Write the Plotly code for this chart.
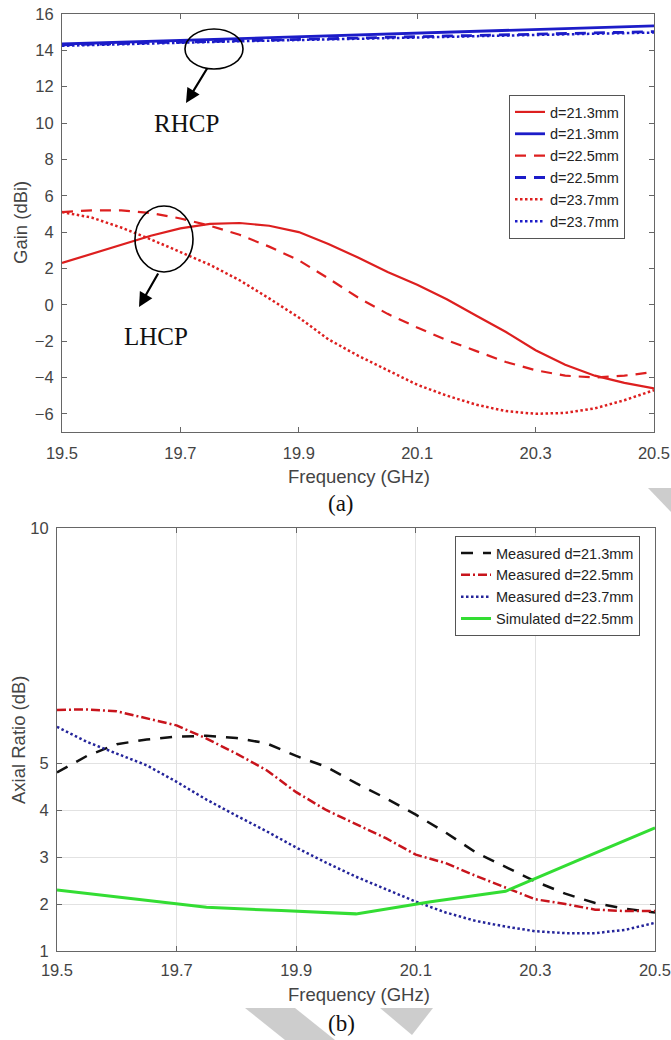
import plotly.graph_objects as go

# ---------------- data: (a) Gain ----------------
freq_a = [19.5, 19.55, 19.6, 19.65, 19.7, 19.75, 19.8, 19.85, 19.9, 19.95, 20.0,
          20.05, 20.1, 20.15, 20.2, 20.25, 20.3, 20.35, 20.4, 20.45, 20.5]
lhcp_213 = [2.3, 2.8, 3.3, 3.8, 4.2, 4.45, 4.5, 4.35, 4.0, 3.35, 2.6,
            1.8, 1.1, 0.3, -0.6, -1.5, -2.5, -3.3, -3.9, -4.3, -4.6]
lhcp_225 = [5.1, 5.2, 5.2, 5.05, 4.75, 4.35, 3.85, 3.2, 2.45, 1.45, 0.4,
            -0.5, -1.25, -1.95, -2.55, -3.15, -3.6, -3.9, -4.0, -3.9, -3.7]
lhcp_237 = [5.1, 4.8, 4.25, 3.6, 2.9, 2.2, 1.35, 0.35, -0.7, -1.9, -2.8,
            -3.6, -4.4, -5.0, -5.5, -5.85, -6.0, -5.95, -5.7, -5.25, -4.7]
rhcp_213 = [14.35, 14.4, 14.45, 14.5, 14.55, 14.6, 14.65, 14.7, 14.75, 14.8, 14.85,
            14.9, 14.95, 15.0, 15.05, 15.1, 15.15, 15.2, 15.25, 15.3, 15.35]
rhcp_225 = [14.3, 14.34, 14.38, 14.42, 14.46, 14.5, 14.54, 14.57, 14.61, 14.65, 14.68,
            14.72, 14.75, 14.79, 14.82, 14.86, 14.89, 14.93, 14.96, 15.0, 15.03]
rhcp_237 = [14.25, 14.3, 14.34, 14.38, 14.42, 14.46, 14.5, 14.53, 14.57, 14.6, 14.64,
            14.67, 14.71, 14.74, 14.78, 14.81, 14.85, 14.88, 14.92, 14.95, 14.98]

# ---------------- data: (b) Axial ratio ----------------
freq_b = freq_a
ar_meas_213 = [4.8, 5.15, 5.4, 5.5, 5.56, 5.58, 5.53, 5.42, 5.15, 4.92, 4.57,
               4.25, 3.9, 3.52, 3.1, 2.79, 2.48, 2.22, 2.02, 1.9, 1.82]
ar_meas_225 = [6.13, 6.14, 6.1, 5.95, 5.8, 5.52, 5.2, 4.85, 4.38, 4.0, 3.7,
               3.4, 3.05, 2.87, 2.6, 2.35, 2.1, 2.0, 1.88, 1.85, 1.85]
ar_meas_237 = [5.77, 5.45, 5.2, 4.95, 4.6, 4.22, 3.88, 3.55, 3.2, 2.88, 2.58,
               2.32, 2.05, 1.82, 1.64, 1.52, 1.42, 1.38, 1.38, 1.45, 1.6]
freq_sim = [19.5, 19.625, 19.75, 19.875, 20.0, 20.125, 20.25, 20.375, 20.5]
ar_sim_225 = [2.3, 2.12, 1.93, 1.86, 1.79, 2.05, 2.27, 2.95, 3.62]

x_ticks = [19.5, 19.7, 19.9, 20.1, 20.3, 20.5]
gain_ticks = [-6, -4, -2, 0, 2, 4, 6, 8, 10, 12, 14, 16]
ar_ticks = [1, 2, 3, 4, 5, 10]

RED = "#dd1f1f"
BLUE = "#1c1cc8"

fig = go.Figure()

# (a) traces, legend order as in reference
fig.add_trace(go.Scatter(x=freq_a, y=lhcp_213, name="d=21.3mm", mode="lines",
                         line=dict(color=RED, width=2.2), xaxis="x", yaxis="y", legend="legend"))
fig.add_trace(go.Scatter(x=freq_a, y=rhcp_213, name="d=21.3mm", mode="lines",
                         line=dict(color=BLUE, width=2.8), xaxis="x", yaxis="y", legend="legend"))
fig.add_trace(go.Scatter(x=freq_a, y=lhcp_225, name="d=22.5mm", mode="lines",
                         line=dict(color=RED, width=2.2, dash="11px,8px"), xaxis="x", yaxis="y", legend="legend"))
fig.add_trace(go.Scatter(x=freq_a, y=rhcp_225, name="d=22.5mm", mode="lines",
                         line=dict(color=BLUE, width=2.8, dash="11px,8px"), xaxis="x", yaxis="y", legend="legend"))
fig.add_trace(go.Scatter(x=freq_a, y=lhcp_237, name="d=23.7mm", mode="lines",
                         line=dict(color=RED, width=2.5, dash="2.5px,2.5px"), xaxis="x", yaxis="y", legend="legend"))
fig.add_trace(go.Scatter(x=freq_a, y=rhcp_237, name="d=23.7mm", mode="lines",
                         line=dict(color=BLUE, width=2.5, dash="2.5px,2.5px"), xaxis="x", yaxis="y", legend="legend"))

# (b) traces
fig.add_trace(go.Scatter(x=freq_b, y=ar_meas_213, name="Measured d=21.3mm", mode="lines",
                         line=dict(color="#111111", width=2.5, dash="12px,10px"), xaxis="x2", yaxis="y2", legend="legend2"))
fig.add_trace(go.Scatter(x=freq_b, y=ar_meas_225, name="Measured d=22.5mm", mode="lines",
                         line=dict(color="#c8141c", width=2.5, dash="9px,3px,2px,3px"), xaxis="x2", yaxis="y2", legend="legend2"))
fig.add_trace(go.Scatter(x=freq_b, y=ar_meas_237, name="Measured d=23.7mm", mode="lines",
                         line=dict(color="#24249a", width=2.5, dash="2.5px,2.5px"), xaxis="x2", yaxis="y2", legend="legend2"))
fig.add_trace(go.Scatter(x=freq_sim, y=ar_sim_225, name="Simulated d=22.5mm", mode="lines",
                         line=dict(color="#33dd33", width=3), xaxis="x2", yaxis="y2", legend="legend2"))

W, H = 671, 1040
def px(v): return v / W
def py(v): return 1 - v / H

tickfont = dict(family="Liberation Sans, Arial", size=16.5, color="#444444")
axis_common = dict(showline=True, linecolor="#666666", linewidth=1.2, mirror="ticks",
                   ticks="inside", ticklen=5, tickcolor="#666666", tickfont=tickfont,
                   zeroline=False, automargin=False, ticklabeloverflow="allow")

fig.update_layout(
    width=W, height=H, margin=dict(l=0, r=0, t=0, b=0, pad=0, autoexpand=False),
    paper_bgcolor="white", plot_bgcolor="white", showlegend=True,
    xaxis=dict(domain=[px(62), px(654)], range=[19.5, 20.5], tickvals=x_ticks,
               ticktext=[f"{v:.1f}" for v in x_ticks], showgrid=False, anchor="y",
               ticklabelstandoff=6, **axis_common),
    yaxis=dict(domain=[py(432), py(14)], range=[-7, 16], tickvals=gain_ticks,
               showgrid=False, anchor="x", ticklabelstandoff=4, **axis_common),
    xaxis2=dict(domain=[px(57), px(655)], range=[19.5, 20.5], tickvals=x_ticks,
                ticktext=[f"{v:.1f}" for v in x_ticks], showgrid=True, gridcolor="#e2e2e2",
                anchor="y2", ticklabelstandoff=4, **axis_common),
    yaxis2=dict(domain=[py(951), py(528)], range=[1, 10], tickvals=ar_ticks,
                showgrid=True, gridcolor="#e2e2e2", anchor="x2", ticklabelstandoff=4, **axis_common),
    legend=dict(x=px(509), y=py(95), xanchor="left", yanchor="top",
                bgcolor="white", bordercolor="#555555", borderwidth=1,
                font=dict(family="Liberation Sans, Arial", size=14.5, color="#222222"),
                itemwidth=30, tracegroupgap=0),
    legend2=dict(x=px(455), y=py(536), xanchor="left", yanchor="top",
                 bgcolor="white", bordercolor="#555555", borderwidth=1,
                 font=dict(family="Liberation Sans, Arial", size=14.5, color="#222222"),
                 itemwidth=30, tracegroupgap=0),
)

titlefont = dict(family="Liberation Sans, Arial", size=18.5, color="#444444")
serif = dict(family="Liberation Serif, Times New Roman", color="#111111")
annots = [
    dict(x=px(359), y=py(477), text="Frequency (GHz)", font=titlefont),
    dict(x=px(359), y=py(994), text="Frequency (GHz)", font=titlefont),
    dict(x=px(20), y=py(223), text="Gain (dBi)", font=titlefont, textangle=-90),
    dict(x=px(18), y=py(740), text="Axial Ratio (dB)", font=titlefont, textangle=-90),
    dict(x=px(341), y=py(503), text="(a)", font=dict(size=23, **serif)),
    dict(x=px(341), y=py(1023), text="(b)", font=dict(size=23, **serif)),
    dict(x=px(187), y=py(123), text="RHCP", font=dict(size=25, **serif)),
    dict(x=px(156), y=py(337), text="LHCP", font=dict(size=25, **serif)),
]
for a in annots:
    a.update(xref="paper", yref="paper", showarrow=False, xanchor="center", yanchor="middle")
    fig.add_annotation(**a)

# arrows (tail offsets in pixels relative to head)
fig.add_annotation(x=px(186), y=py(103), ax=22, ay=-36, xref="paper", yref="paper",
                   axref="pixel", ayref="pixel", text="", showarrow=True, arrowhead=2,
                   arrowsize=1.3, arrowwidth=2.2, arrowcolor="#000000")
fig.add_annotation(x=px(139), y=py(307), ax=20, ay=-35, xref="paper", yref="paper",
                   axref="pixel", ayref="pixel", text="", showarrow=True, arrowhead=2,
                   arrowsize=1.3, arrowwidth=2.2, arrowcolor="#000000")

# ellipses
fig.add_shape(type="circle", xref="paper", yref="paper", x0=px(185), x1=px(243), y0=py(69), y1=py(29),
              line=dict(color="#000000", width=1.6))
fig.add_shape(type="circle", xref="paper", yref="paper", x0=px(135), x1=px(193), y0=py(272), y1=py(206),
              line=dict(color="#000000", width=1.6))

# light grey watermark marks
wm = "rgba(200,200,200,0.9)"
def poly(pts):
    d = "M " + " L ".join(f"{px(x)},{py(y)}" for x, y in pts) + " Z"
    fig.add_shape(type="path", xref="paper", yref="paper", path=d, fillcolor=wm, line=dict(width=0), layer="below")
poly([(245, 1008), (295, 1008), (335, 1040), (285, 1040)])
poly([(380, 1008), (433, 1008), (412, 1035)])
poly([(648, 488), (671, 488), (671, 512)])

fig.write_html("out.html")
